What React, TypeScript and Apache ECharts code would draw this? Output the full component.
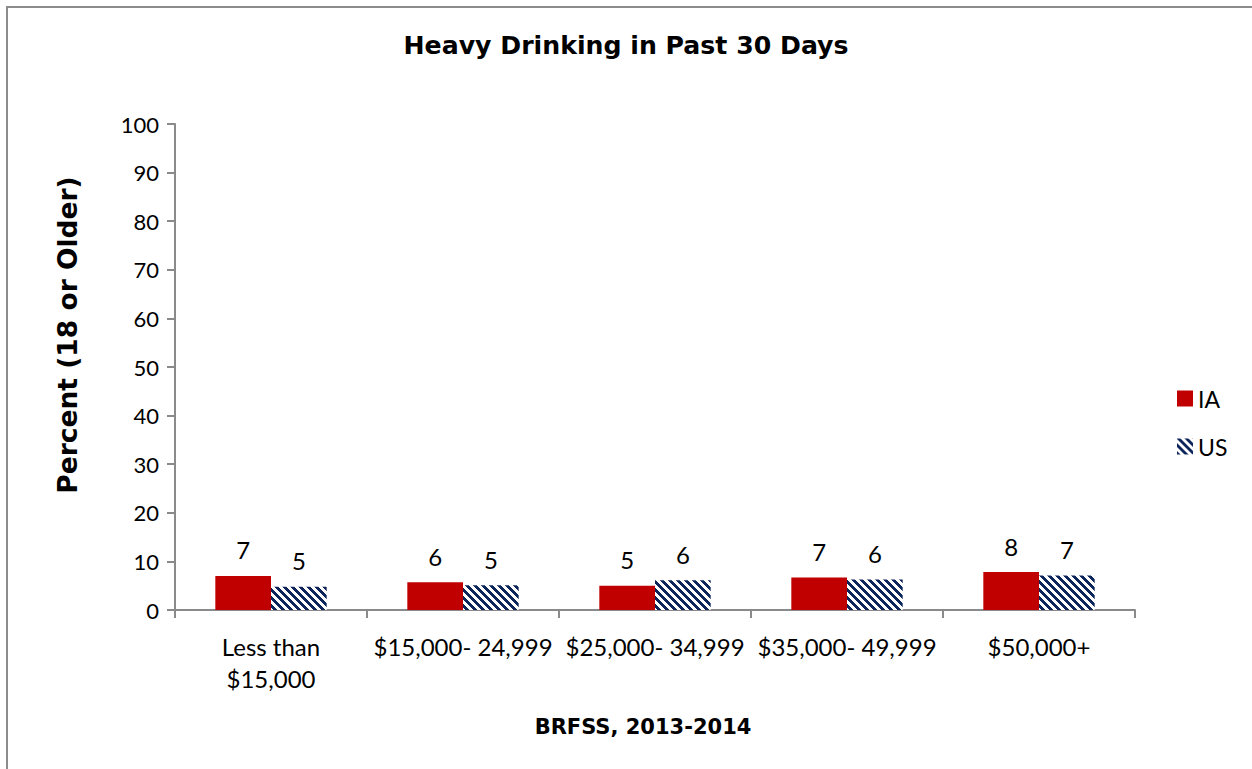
import React, { useEffect, useRef } from "react";
import * as echarts from "echarts";

const categories = ["Less than\n$15,000", "$15,000- 24,999", "$25,000- 34,999", "$35,000- 49,999", "$50,000+"];
const iaValues = [7.0, 5.7, 5.0, 6.7, 7.8];
const usValues = [4.8, 5.1, 6.1, 6.3, 7.1];
const seriesNames = ["IA", "US"];
const titleText = "Heavy Drinking in Past 30 Days";
const yAxisTitle = "Percent (18 or Older)";
const xAxisTitle = "BRFSS, 2013-2014";

const FONT = "Lato";
const BOLD_FONT = "DejaVu Sans";
const RED = "#c00000";

function makeStripePattern(): HTMLCanvasElement {
  const size = 8;
  const c = document.createElement("canvas");
  c.width = size;
  c.height = size;
  const ctx = c.getContext("2d")!;
  const img = ctx.createImageData(size, size);
  for (let y = 0; y < size; y++) {
    for (let x = 0; x < size; x++) {
      const k = (((x - y) % size) + size) % size;
      const on = k < 4;
      const i = (y * size + x) * 4;
      if (on) {
        img.data[i] = 0x0e;
        img.data[i + 1] = 0x25;
        img.data[i + 2] = 0x5c;
      } else {
        img.data[i] = 255;
        img.data[i + 1] = 255;
        img.data[i + 2] = 255;
      }
      img.data[i + 3] = 255;
    }
  }
  ctx.putImageData(img, 0, 0);
  return c;
}

export default function App() {
  const ref = useRef<HTMLDivElement>(null);
  useEffect(() => {
    if (!ref.current) return;
    const chart = echarts.init(ref.current, undefined, { renderer: "svg" });
    const pattern = { image: makeStripePattern(), repeat: "repeat" } as any;
    const axisGray = "#8a8a8a";
    const valueLabel = {
      show: true,
      position: "top",
      distance: 14,
      fontFamily: FONT,
      fontSize: 24,
      color: "#000",
      formatter: (p: any) => String(Math.round(p.value)),
    };
    chart.setOption({
      animation: false,
      backgroundColor: "#ffffff",
      textStyle: { fontFamily: FONT },
      grid: { left: 175, right: 117, top: 124, bottom: 159, containLabel: false },
      legend: {
        orient: "vertical",
        left: 1172,
        top: 382,
        itemWidth: 16,
        itemHeight: 16,
        itemGap: 25,
        icon: "rect",
        textStyle: { fontFamily: FONT, fontSize: 23, lineHeight: 23, color: "#000" },
        data: seriesNames,
      },
      xAxis: {
        type: "category",
        data: categories,
        axisLine: { lineStyle: { color: axisGray, width: 2 } },
        axisTick: { show: true, length: 8, lineStyle: { color: axisGray, width: 2 } },
        axisLabel: {
          interval: 0,
          margin: 20,
          fontFamily: FONT,
          fontSize: 24,
          lineHeight: 32,
          color: "#000",
        },
      },
      yAxis: {
        type: "value",
        min: 0,
        max: 100,
        interval: 10,
        splitLine: { show: false },
        axisLine: { show: true, lineStyle: { color: axisGray, width: 2 } },
        axisTick: { show: true, length: 8, lineStyle: { color: axisGray, width: 2 } },
        axisLabel: { margin: 16, fontFamily: FONT, fontSize: 22, color: "#000" },
      },
      series: [
        {
          name: seriesNames[0],
          type: "bar",
          data: iaValues,
          barGap: "0%",
          barCategoryGap: "42%",
          itemStyle: { color: RED },
          label: valueLabel,
        },
        {
          name: seriesNames[1],
          type: "bar",
          data: usValues,
          barGap: "0%",
          barCategoryGap: "42%",
          itemStyle: { color: pattern },
          label: valueLabel,
        },
      ],
      graphic: [
        {
          type: "rect",
          shape: { x: 7, y: 7, width: 1300, height: 820 },
          style: { fill: "none", stroke: "#8c8c8c", lineWidth: 2 },
          silent: true,
        },
        {
          type: "text",
          x: 626,
          y: 45,
          style: {
            text: titleText,
            fontFamily: BOLD_FONT,
            fontWeight: "bold",
            fontSize: 25.2,
            fill: "#000",
            align: "center",
            verticalAlign: "middle",
          },
        },
        {
          type: "text",
          x: 67,
          y: 335,
          rotation: Math.PI / 2,
          style: {
            text: yAxisTitle,
            fontFamily: BOLD_FONT,
            fontWeight: "bold",
            fontSize: 26.5,
            fill: "#000",
            align: "center",
            verticalAlign: "middle",
          },
        },
        {
          type: "text",
          x: 643,
          y: 727,
          style: {
            text: xAxisTitle,
            fontFamily: BOLD_FONT,
            fontWeight: "bold",
            fontSize: 21,
            fill: "#000",
            align: "center",
            verticalAlign: "middle",
          },
        },
      ],
    });
    return () => chart.dispose();
  }, []);
  return (
    <div
      ref={ref}
      style={{ position: "fixed", left: 0, top: 0, width: 1252, height: 769 }}
    />
  );
}
